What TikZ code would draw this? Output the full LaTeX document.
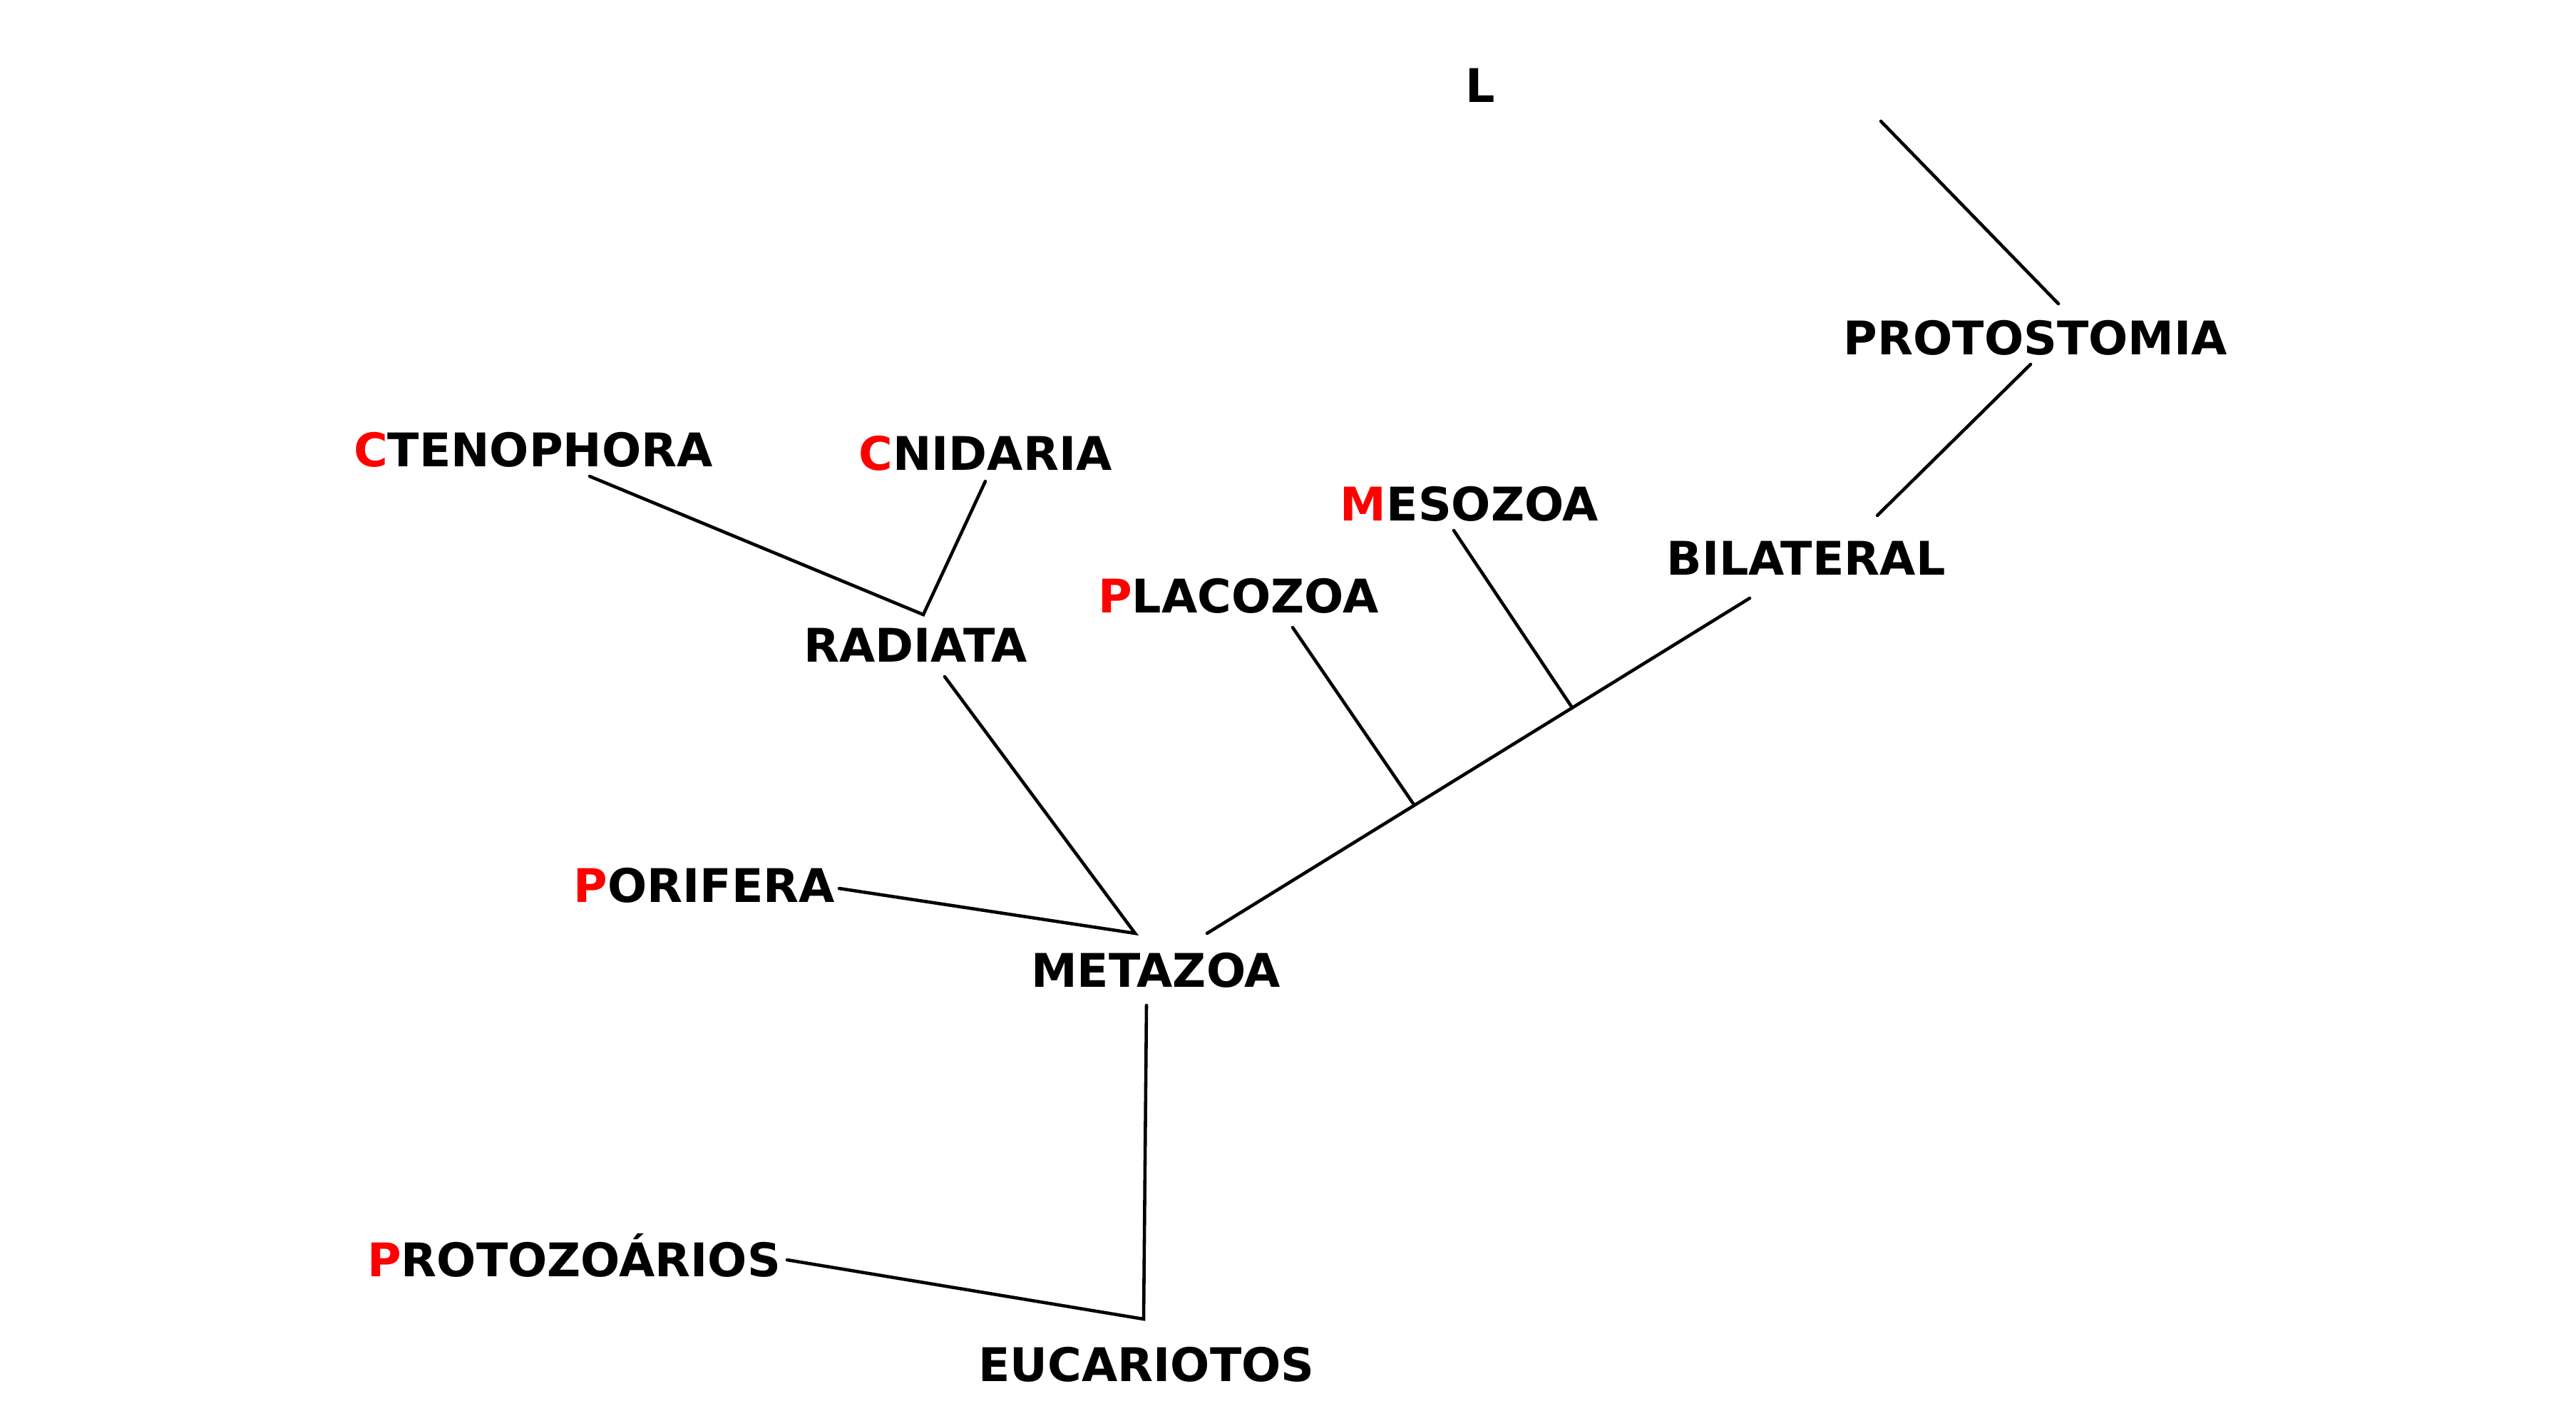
\documentclass[tikz,border=0pt]{standalone}
\usepackage{fontspec}
\setmainfont{DejaVu Sans}
\usetikzlibrary{calc}
\newcommand\rl[1]{\textcolor{red}{#1}}
\begin{document}
\begin{tikzpicture}[line width=1.3pt,line cap=round,
  taxon/.style={anchor=base,inner sep=0pt,font=\bfseries\fontsize{18.5}{22}\selectfont}]
 \useasboundingbox (0,0) rectangle (36.13,-20);
 % names
 \node[taxon] (L) at (20.76,-1.43) {L};
 \node[taxon] (protostomia) at (28.55,-4.97) {PROTOSTOMIA};
 \node[taxon] (ctenophora) at (7.48,-6.54) {\rl{C}TENOPHORA};
 \node[taxon] (cnidaria) at (13.82,-6.59) {\rl{C}NIDARIA};
 \node[taxon] (mesozoa) at (20.61,-7.30) {\rl{M}ESOZOA};
 \node[taxon] (bilateral) at (25.33,-8.06) {BILATERAL};
 \node[taxon] (placozoa) at (17.37,-8.59) {\rl{P}LACOZOA};
 \node[taxon] (radiata) at (12.84,-9.28) {RADIATA};
 \node[taxon] (porifera) at (9.88,-12.65) {\rl{P}ORIFERA};
 \node[taxon] (metazoa) at (16.21,-13.84) {METAZOA};
 \node[taxon] (protozoarios) at (8.05,-17.90) {\rl{P}ROTOZOÁRIOS};
 \node[taxon] (eucariotos) at (16.08,-19.37) {EUCARIOTOS};
 % line ends
 \coordinate (top) at (26.38,-1.70);
 \coordinate (ptop) at (28.87,-4.26);
 \coordinate (pbot) at (28.48,-5.11);
 \coordinate (btop) at (26.33,-7.23);
 \coordinate (bbot) at (24.54,-8.39);
 \coordinate (mright) at (16.93,-13.09);
 \coordinate (mes) at (20.39,-7.44);
 \coordinate (plac) at (18.13,-8.80);
 \coordinate (mesj) at ($(bbot)!0.327!(mright)$);
 \coordinate (placj) at ($(bbot)!0.618!(mright)$);
 \coordinate (cten) at (8.27,-6.68);
 \coordinate (cnid) at (13.82,-6.75);
 \coordinate (radj) at (12.95,-8.62);
 \coordinate (rad) at (13.25,-9.49);
 \coordinate (metj) at (15.92,-13.09);
 \coordinate (por) at (11.77,-12.46);
 \coordinate (metbot) at (16.08,-14.10);
 \coordinate (euj) at (16.04,-18.50);
 \coordinate (proto) at (11.04,-17.67);
 % branches
 \draw (top) -- (ptop);
 \draw (pbot) -- (btop);
 \draw (bbot) -- (mright);
 \draw (mes) -- (mesj);
 \draw (plac) -- (placj);
 \draw (cten) -- (radj) -- (cnid);
 \draw (rad) -- (metj) -- (por);
 \draw (metbot) -- (euj) -- (proto);
\end{tikzpicture}
\end{document}
